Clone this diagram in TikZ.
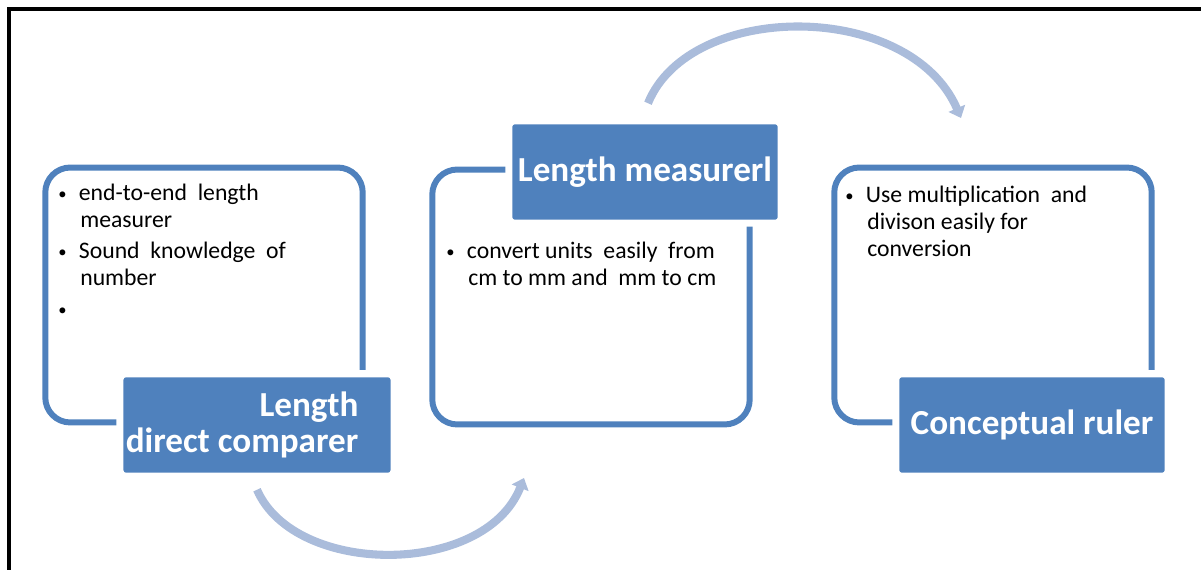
\documentclass[tikz,border=0pt]{standalone}
\usepackage{fontspec}
\setmainfont{Carlito}
\usepackage{xcolor}
\usepackage{tikz}
\usetikzlibrary{arrows.meta,positioning,calc}

\definecolor{stageblue}{RGB}{79,129,189}
\definecolor{arcblue}{RGB}{170,188,219}
\newcommand{\itemdot}{\raisebox{0.8pt}{\scalebox{0.7}{\textbullet}}\hspace{7pt}}
\newcommand{\itemgap}{\hspace{12.5pt}}

\begin{document}
\begin{tikzpicture}[
  x=0.02cm, y=-0.02cm,
  stagebox/.style={draw=stageblue, line width=3.4pt, rounded corners=0.5cm, minimum width=6.35cm, minimum height=5.1cm},
  stagelabel/.style={draw=white, line width=4pt, fill=stageblue, rounded corners=3pt, text=white, font=\fontsize{20}{20}\selectfont\bfseries, minimum width=5.45cm, minimum height=2.05cm},
  notes/.style={anchor=north west, align=left, inner sep=0pt, font=\fontsize{13.5}{15.3}\selectfont},
  flowarc/.style={draw=arcblue, line width=4.6pt, -{Triangle[length=6pt,width=10pt]}},
]
\useasboundingbox (0,0) rectangle (1201,570);
\draw[line width=2.3pt] (9,570) -- (9,9) -- (1201,9);

% outline boxes
\node[stagebox] (box1) at (204,295) {};
\node[stagebox] (box2) at (591,297) {};
\node[stagebox] (box3) at (993,295) {};

% item texts
\node[notes] (notes1) at (58,184) {%
  \itemdot end-to-end\ \ length\\
  \itemgap measurer\\[2.5pt]
  \itemdot Sound\ \ knowledge\ \ of\\
  \itemgap number\\[2.5pt]
  \itemdot};
\node[notes] (notes2) at (446,242) {%
  \itemdot convert units\ \ easily\ \ from\\
  \itemgap cm to mm\ and\ \ mm to cm};
\node[notes] (notes3) at (845,186) {%
  \itemdot Use multiplication\ \ and\\
  \itemgap divison easily for\\
  \itemgap conversion};

% stage labels
\node[stagelabel, align=right] (lab1) at (257,425) {Length\kern17pt\\direct comparer\kern17pt};
\node[stagelabel] (lab2) at (645,172) {Length measurerl};
\node[stagelabel] (lab3) at (1032,425) {Conceptual ruler};

% connecting arcs
\coordinate (a1) at ($(lab1.south)+(0,10)$);
\coordinate (b1) at (524,478);
\coordinate (a2) at ($(lab2.north)+(3,-14)$);
\coordinate (b2) at (961,118);
\draw[flowarc] (a1) .. controls (295,577) and (485,577) .. (b1);
\draw[flowarc] (a2) .. controls (690,0) and (910,0) .. (b2);
\end{tikzpicture}
\end{document}
